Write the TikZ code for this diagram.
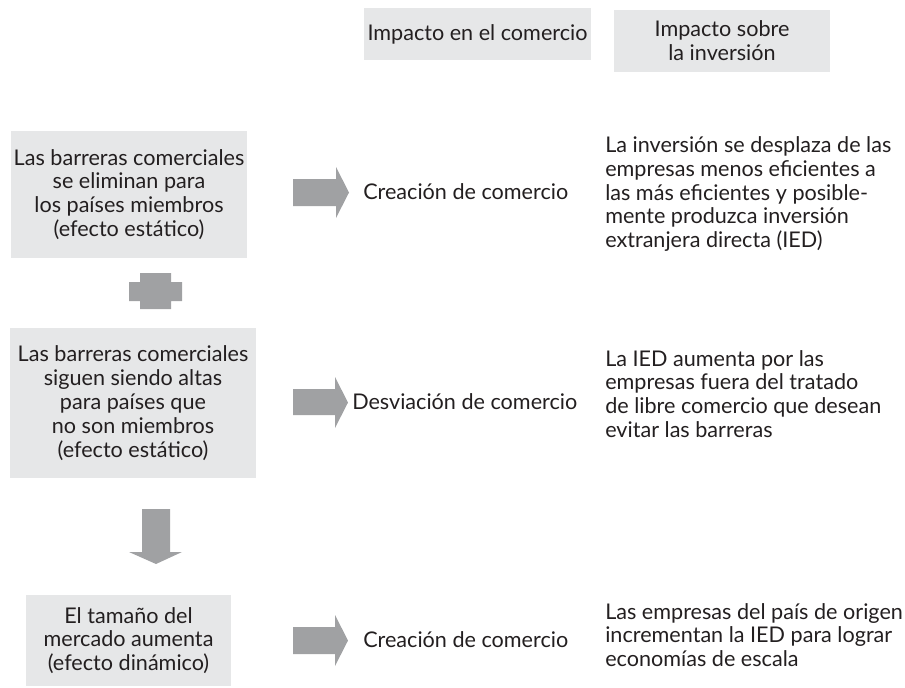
\documentclass[tikz,border=0pt]{standalone}
\usepackage{fontspec}
\setmainfont{Lato}
\usetikzlibrary{positioning}
\definecolor{boxgray}{RGB}{230,231,232}
\definecolor{arrowgray}{RGB}{160,161,163}
\definecolor{inktext}{RGB}{35,31,32}

\begin{document}
\begin{tikzpicture}[
	x=0.75pt, y=-0.75pt,
	font=\fontsize{16.2}{17.9}\selectfont,
	% Styles for the grey boxes
	headbox/.style={fill=boxgray, text=inktext, align=center, inner sep=0pt},
	causebox/.style={fill=boxgray, text=inktext, align=center, inner sep=0pt},
	% Styles for the plain texts
	tradetext/.style={text=inktext, anchor=west, inner sep=0pt},
	investtext/.style={text=inktext, anchor=west, align=left, inner sep=0pt},
	% Style for the block arrows and the plus sign
	blockarrow/.style={fill=arrowgray}
	]
	\useasboundingbox (0,0) rectangle (905,687);
	
	% ==========================================
	% COLUMN HEADERS
	% ==========================================
	\node[headbox, minimum width=227*0.75pt, minimum height=52*0.75pt] (headTrade) at (477.5,34) {Impacto en el comercio};
	\node[headbox, minimum width=216*0.75pt, minimum height=62*0.75pt] (headInvest) at (722,41) {Impacto sobre\\la inversión};
	
	% ==========================================
	% ROW 1: ELIMINATED BARRIERS
	% ==========================================
	\node[causebox, minimum width=236*0.75pt, minimum height=127*0.75pt] (causeA) at (129,194.5)
		{Las barreras comerciales\\se eliminan para\\los países miembros\\(efecto estático)};
	\fill[blockarrow] (293,179) -- (336,179) -- (336,167) -- (349,192.5) -- (336,218) -- (336,206) -- (293,206) -- cycle;
	\node[tradetext] (tradeA) at (363,192) {Creación de comercio};
	\node[investtext] (investA) at (605,194)
		{La inversión se desplaza de las\\empresas menos eficientes a\\las más eficientes y posible-\\mente produzca inversión\\extranjera directa (IED)};
	
	% Plus sign
	\fill[blockarrow] (140,273) -- (171,273) -- (171,282) -- (182,282) -- (182,301) -- (171,301)
		-- (171,309) -- (140,309) -- (140,301) -- (129,301) -- (129,282) -- (140,282) -- cycle;
	
	% ==========================================
	% ROW 2: BARRIERS FOR NON-MEMBERS
	% ==========================================
	\node[causebox, minimum width=246*0.75pt, minimum height=150*0.75pt] (causeB) at (133,403)
		{Las barreras comerciales\\siguen siendo altas\\para países que\\no son miembros\\(efecto estático)};
	\fill[blockarrow] (293,389) -- (335,389) -- (335,377) -- (348,402.5) -- (335,428) -- (335,415) -- (293,415) -- cycle;
	\node[tradetext] (tradeB) at (352,402) {Desviación de comercio};
	\node[investtext] (investB) at (605,394)
		{La IED aumenta por las\\empresas fuera del tratado\\de libre comercio que desean\\evitar las barreras};
	
	% Down arrow
	\fill[blockarrow] (142,509) -- (170,509) -- (170,552) -- (182,552) -- (156,564) -- (129,552) -- (142,552) -- cycle;
	
	% ==========================================
	% ROW 3: MARKET SIZE
	% ==========================================
	\node[causebox, minimum width=205*0.75pt, minimum height=91*0.75pt] (causeC) at (128.5,640.5)
		{El tamaño del\\mercado aumenta\\(efecto dinámico)};
	\fill[blockarrow] (293,627) -- (335,627) -- (335,615) -- (348,640.5) -- (335,666) -- (335,654) -- (293,654) -- cycle;
	\node[tradetext] (tradeC) at (363,640) {Creación de comercio};
	\node[investtext] (investC) at (605,635)
		{Las empresas del país de origen\\incrementan la IED para lograr\\economías de escala};
	
\end{tikzpicture}
\end{document}
